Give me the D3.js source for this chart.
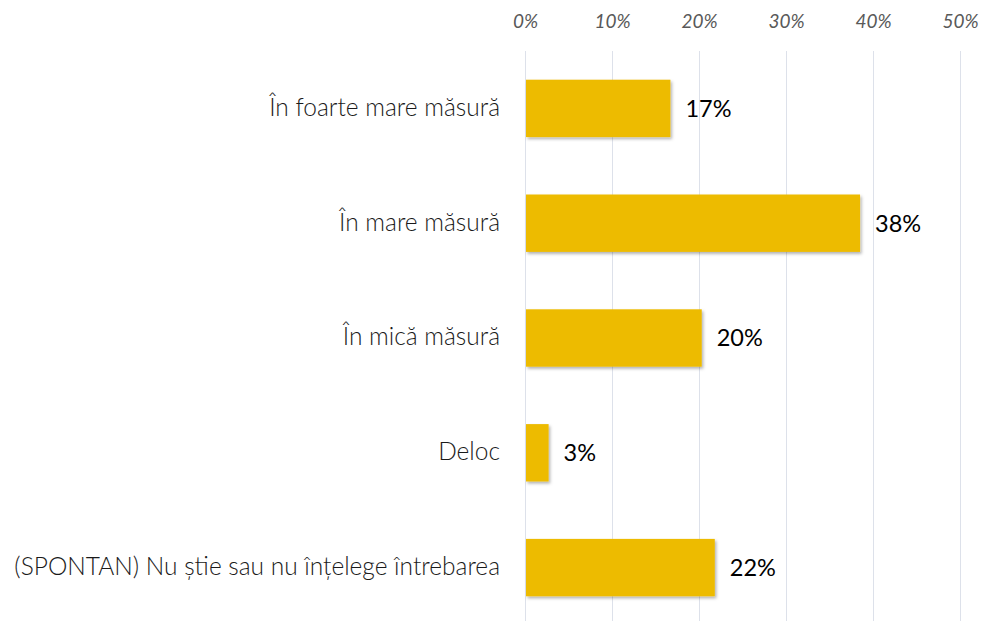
<!DOCTYPE html>
<html>
<head>
<meta charset="utf-8">
<script src="https://cdn.jsdelivr.net/npm/d3@7"></script>
<style>
  body { margin: 0; background: #fff; }
  svg { display: block; }
</style>
</head>
<body>
<svg id="chart" width="983" height="621"></svg>
<script>
let categories = [
  "În foarte mare măsură",
  "În mare măsură",
  "În mică măsură",
  "Deloc",
  "(SPONTAN) Nu știe sau nu înțelege întrebarea"
];
let values = [16.6, 38.4, 20.2, 2.6, 21.7];
let valueLabels = ["17%", "38%", "20%", "3%", "22%"];
let ticks = [0, 10, 20, 30, 40, 50];

let svg = d3.select("#chart");

let margin = { top: 51, left: 525, right: 23, bottom: 0 };
let plotWidth = 983 - margin.left - margin.right;   // 0..50%
let plotHeight = 574;

let x = d3.scaleLinear().domain([0, 50]).range([0, plotWidth]);
let y = d3.scaleBand().domain(categories).range([0, plotHeight]).paddingInner(0.5).paddingOuter(0.25);

// drop shadow for bars
let defs = svg.append("defs");
defs.append("filter")
  .attr("id", "shadow")
  .attr("x", "-10%").attr("y", "-10%").attr("width", "130%").attr("height", "140%")
  .append("feDropShadow")
  .attr("dx", 1.5).attr("dy", 2)
  .attr("stdDeviation", 1.5)
  .attr("flood-color", "#000")
  .attr("flood-opacity", 0.3);

let plot = svg.append("g").attr("transform", "translate(" + margin.left + "," + margin.top + ")");

// gridlines
plot.append("g")
  .selectAll("line")
  .data(ticks)
  .enter().append("line")
  .attr("x1", d => x(d) + 0.5).attr("x2", d => x(d) + 0.5)
  .attr("y1", 0).attr("y2", 621 - margin.top)
  .attr("stroke", "#DDE1EA")
  .attr("stroke-width", 1);

// top axis labels
let xAxis = d3.axisTop(x).tickValues(ticks).tickSize(0).tickPadding(0).tickFormat(d => d + "%");
let axisG = plot.append("g")
  .attr("transform", "translate(0,-23)")
  .call(xAxis);
axisG.select(".domain").remove();
axisG.selectAll("text")
  .attr("font-family", "Lato, sans-serif")
  .attr("font-style", "italic")
  .attr("font-size", 19)
  .attr("fill", "#595959");

// bars
plot.selectAll(".bar")
  .data(categories)
  .enter().append("rect")
  .attr("class", "bar")
  .attr("x", x(0) + 1)
  .attr("y", d => y(d))
  .attr("width", (d, i) => x(values[i]))
  .attr("height", y.bandwidth())
  .attr("fill", "#EDBB00")
  .attr("filter", "url(#shadow)");

// value labels
plot.selectAll(".val")
  .data(categories)
  .enter().append("text")
  .attr("class", "val")
  .attr("x", (d, i) => x(values[i]) + 16)
  .attr("y", d => y(d) + y.bandwidth() / 2)
  .attr("dy", "0.36em")
  .attr("font-family", "Lato, sans-serif")
  .attr("font-size", 23.5)
  .attr("font-weight", 400)
  .attr("fill", "#000")
  .text((d, i) => valueLabels[i]);

// category labels
plot.selectAll(".cat")
  .data(categories)
  .enter().append("text")
  .attr("class", "cat")
  .attr("x", -25)
  .attr("y", d => y(d) + y.bandwidth() / 2)
  .attr("dy", "0.3em")
  .attr("text-anchor", "end")
  .attr("font-family", "Lato, sans-serif")
  .attr("font-weight", 300)
  .attr("font-size", 24.5)
  .attr("fill", "#1a1a1a")
  .text(d => d);
</script>
</body>
</html>
